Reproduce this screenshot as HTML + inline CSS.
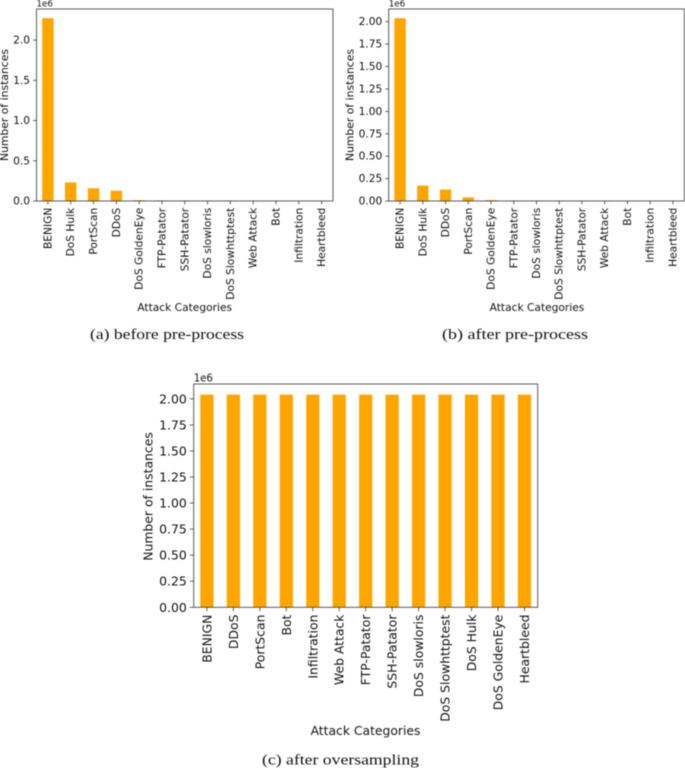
<!DOCTYPE html>
<html lang="en">
<head>
<meta charset="utf-8">
<title>Attack category distributions</title>
<style>
html,body{margin:0;padding:0;background:#fff;width:685px;height:768px;overflow:hidden}
svg{display:block;filter:blur(0.45px)}
text{font-family:"DejaVu Sans","Liberation Sans",sans-serif;fill:#111}
.cap{font-family:"Liberation Serif",serif;fill:#111}
</style>
</head>
<body>
<svg id="fig" xmlns="http://www.w3.org/2000/svg" width="685" height="768" viewBox="0 0 685 768">
  <g id="chart-a"></g>
  <g id="chart-b"></g>
  <g id="chart-c"></g>

  <text x="184.7" y="311" font-size="10.65" text-anchor="middle">Attack Categories</text>
  <text x="537" y="311" font-size="10.65" text-anchor="middle">Attack Categories</text>
  <text x="365.5" y="735" font-size="12.35" text-anchor="middle">Attack Categories</text>

  <text transform="translate(4.5,105) rotate(-90)" font-size="10.8" text-anchor="middle" dominant-baseline="central">Number of instances</text>
  <text transform="translate(350,105) rotate(-90)" font-size="10.8" text-anchor="middle" dominant-baseline="central">Number of instances</text>
  <text transform="translate(148,496.5) rotate(-90)" font-size="12.4" text-anchor="middle" dominant-baseline="central">Number of instances</text>

  <text class="cap" x="167" y="339" font-size="15" text-anchor="middle" textLength="154" lengthAdjust="spacingAndGlyphs">(a) before pre-process</text>
  <text class="cap" x="515" y="339" font-size="15" text-anchor="middle" textLength="146" lengthAdjust="spacingAndGlyphs">(b) after pre-process</text>
  <text class="cap" x="340.5" y="764.5" font-size="15" text-anchor="middle" textLength="157" lengthAdjust="spacingAndGlyphs">(c) after oversampling</text>
</svg>
<script>
// Chart (a): before pre-process
const categoriesA = ["BENIGN","DoS Hulk","PortScan","DDoS","DoS GoldenEye","FTP-Patator","SSH-Patator","DoS slowloris","DoS Slowhttptest","Web Attack","Bot","Infiltration","Heartbleed"];
const valuesA = [2273000,231000,158900,128000,10300,7900,5900,5800,5500,2200,2000,36,11];
const ticksA = [0,0.5,1.0,1.5,2.0];
const tickLabelsA = ["0.0","0.5","1.0","1.5","2.0"];

// Chart (b): after pre-process
const categoriesB = ["BENIGN","DoS Hulk","DDoS","PortScan","DoS GoldenEye","FTP-Patator","DoS slowloris","DoS Slowhttptest","SSH-Patator","Web Attack","Bot","Infiltration","Heartbleed"];
const valuesB = [2040000,172000,128000,41000,10300,6000,5400,5200,3200,1500,1500,36,11];
const ticksB = [0,0.25,0.5,0.75,1.0,1.25,1.5,1.75,2.0];
const tickLabelsB = ["0.00","0.25","0.50","0.75","1.00","1.25","1.50","1.75","2.00"];

// Chart (c): after oversampling
const categoriesC = ["BENIGN","DDoS","PortScan","Bot","Infiltration","Web Attack","FTP-Patator","SSH-Patator","DoS slowloris","DoS Slowhttptest","DoS Hulk","DoS GoldenEye","Heartbleed"];
const valuesC = [2040000,2040000,2040000,2040000,2040000,2040000,2040000,2040000,2040000,2040000,2040000,2040000,2040000];
const ticksC = [0,0.25,0.5,0.75,1.0,1.25,1.5,1.75,2.0];
const tickLabelsC = ["0.00","0.25","0.50","0.75","1.00","1.25","1.50","1.75","2.00"];

const SCALE_UNIT = 1e6;
const NS = "http://www.w3.org/2000/svg";

function make(parent, tag, props) {
  const el = document.createElementNS(NS, tag);
  for (const k in props) el.setAttribute(k, props[k]);
  parent.appendChild(el);
  return el;
}

function drawChart(groupId, box, fontSize, categories, values, ticks, tickLabels) {
  const g = document.getElementById(groupId);
  const plotW = box.right - box.left;
  const plotH = box.bottom - box.top;
  const yMax = Math.max.apply(null, values) * 1.05;
  const xScale = function (i) { return box.left + (i + 0.5) * plotW / categories.length; };
  const yScale = function (v) { return box.bottom - v / yMax * plotH; };
  const barW = 0.5 * plotW / categories.length;

  values.forEach(function (v, i) {
    const bar = make(g, "rect", {
      x: xScale(i) - barW / 2, y: yScale(v), width: barW,
      height: box.bottom - yScale(v), fill: "#ffa500"
    });
    
    
  });

  const tickLen = fontSize * 0.32;
  ticks.forEach(function (t, i) {
    const y = yScale(t * SCALE_UNIT);
    const mark = make(g, "line", {
      x1: box.left - tickLen, x2: box.left, y1: y, y2: y,
      stroke: "#222", "stroke-width": 0.7
    });
    
    
    const label = make(g, "text", {
      x: box.left - tickLen - 3, y: y, "text-anchor": "end",
      "dominant-baseline": "central", "font-size": fontSize
    });
    label.textContent = tickLabels[i];
    
    
  });

  categories.forEach(function (c, i) {
    const x = xScale(i);
    const mark = make(g, "line", {
      x1: x, x2: x, y1: box.bottom, y2: box.bottom + tickLen,
      stroke: "#222", "stroke-width": 0.7
    });
    
    
    const ly = box.bottom + tickLen + 3.3;
    const label = make(g, "text", {
      transform: "translate(" + x + "," + ly + ") rotate(-90)",
      "text-anchor": "end", "dominant-baseline": "central", "font-size": fontSize
    });
    label.textContent = c;
    
    
  });

  const frame = make(g, "rect", {
    x: box.left, y: box.top, width: plotW, height: plotH,
    fill: "none", stroke: "#333", "stroke-width": 0.8
  });
  
  

  const offset = make(g, "text", {
    x: box.left, y: box.top - 2.5, "font-size": fontSize * 0.82
  });
  offset.textContent = "1e6";
  
  
}

drawChart("chart-a", {left:36.5, right:333, top:9, bottom:201}, 10.65, categoriesA, valuesA, ticksA, tickLabelsA);
drawChart("chart-b", {left:388.7, right:684.3, top:9, bottom:201}, 10.65, categoriesB, valuesB, ticksB, tickLabelsB);
drawChart("chart-c", {left:193.7, right:537.7, top:384, bottom:607.3}, 12.4, categoriesC, valuesC, ticksC, tickLabelsC);
</script>
</body>
</html>
